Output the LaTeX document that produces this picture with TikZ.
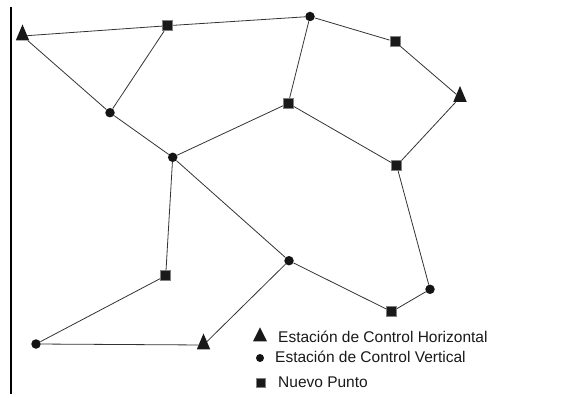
\documentclass[tikz,border=0pt]{standalone}
\usepackage{fontspec}
\setmainfont{Liberation Sans}
\usetikzlibrary{shapes.geometric}
\begin{document}
\begin{tikzpicture}[x=1pt,y=-1pt,
  edge/.style={draw=black!80,line width=0.8pt},
  sq/.style={rectangle,fill=black!90,draw=black!50,line width=0.8pt,minimum size=10pt,inner sep=0pt},
  dot/.style={circle,fill=black!92,minimum size=9.5pt,inner sep=0pt},
  tri/.style={isosceles triangle,isosceles triangle apex angle=46,shape border rotate=90,
     isosceles triangle stretches,minimum height=16pt,minimum width=13.5pt,fill=black!90,inner sep=0pt},
  legtxt/.style={anchor=base west,inner sep=0pt,font=\fontsize{15.5}{18}\selectfont,text=black!90}]
\useasboundingbox (0,0) rectangle (567,398);
\draw[line width=1.4pt] (11,7) -- (11,394);
% nodes
\node[tri] (T1) at (22.5,36) {};
\node[sq]  (S1) at (167.7,25.7) {};
\node[dot] (C1) at (110,112.7) {};
\node[dot] (C2) at (310,16.5) {};
\node[sq]  (S2) at (395,41.7) {};
\node[tri] (T2) at (460,97.5) {};
\node[sq]  (S3) at (288.3,103.3) {};
\node[sq]  (S4) at (396.7,165.7) {};
\node[dot] (C3) at (172.7,157.3) {};
\node[sq]  (S5) at (165.7,275.7) {};
\node[dot] (C4) at (36,344) {};
\node[tri] (T3) at (203.5,345) {};
\node[dot] (C5) at (289,260.7) {};
\node[sq]  (S6) at (391.7,311.7) {};
\node[dot] (C6) at (430,289.3) {};
% edges
\begin{scope}[on background layer/.style={}]
\draw[edge] (T1) -- (S1);
\draw[edge] (S1) -- (C2);
\draw[edge] (C2) -- (S2);
\draw[edge] (S2) -- (T2);
\draw[edge] (T2) -- (S4);
\draw[edge] (S4) -- (S3);
\draw[edge] (S3) -- (C2);
\draw[edge] (S3) -- (C3);
\draw[edge] (S1) -- (C1);
\draw[edge] (T1) -- (C1);
\draw[edge] (C1) -- (C3);
\draw[edge] (C3) -- (C5);
\draw[edge] (C3) -- (S5);
\draw[edge] (S5) -- (C4);
\draw[edge] (C4) -- (T3);
\draw[edge] (T3) -- (C5);
\draw[edge] (C5) -- (S6);
\draw[edge] (S6) -- (C6);
\draw[edge] (C6) -- (S4);
\end{scope}
% legend
\node[tri,minimum height=14pt,minimum width=14pt,isosceles triangle apex angle=53] (LT) at (260,337) {};
\node[dot,minimum size=8pt] (LC) at (260,358) {};
\node[sq,minimum size=9.5pt] (LS) at (261,383) {};
\node[legtxt] (LT1) at (278,342.7) {Estación de Control Horizontal};
\node[legtxt] (LC1) at (275,362.7) {Estación de Control Vertical};
\node[legtxt] (LS1) at (278,387.3) {Nuevo Punto};
\end{tikzpicture}
\end{document}
